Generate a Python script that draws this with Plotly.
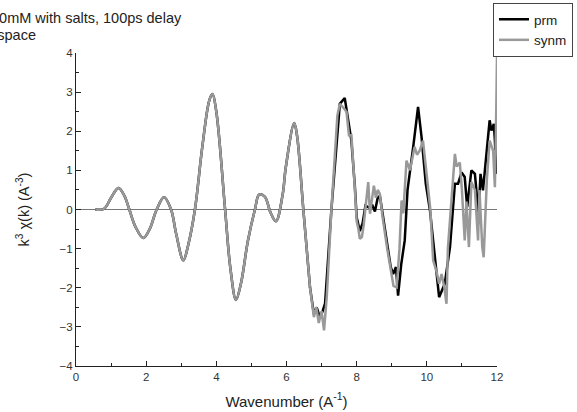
import plotly.graph_objects as go

# shared (overlapping) part of both spectra
k_common = [0.55, 0.8, 1.0, 1.21, 1.38, 1.52, 1.7, 1.92, 2.1, 2.30, 2.51, 2.71, 2.85, 3.06, 3.2, 3.39,
            3.6, 3.80, 3.89, 4.0, 4.25, 4.4, 4.56, 4.7, 4.9, 5.10, 5.22, 5.38, 5.55, 5.70, 5.89, 5.98,
            6.22, 6.30, 6.48]
v_common = [0.0, 0.02, 0.3, 0.55, 0.35, 0.0, -0.45, -0.73, -0.5, 0.0, 0.31, 0.0, -0.6, -1.30, -0.9, 0.0,
            1.6, 2.79, 2.95, 2.5, 0.0, -1.5, -2.31, -1.9, -0.8, 0.0, 0.38, 0.33, -0.09, -0.30, 0.38, 1.08,
            2.21, 1.89, 0.0]

k_prm_tail = [6.67, 6.78, 6.86, 6.95, 7.03, 7.1, 7.28, 7.52, 7.66, 7.71, 7.85, 7.95, 8.0, 8.09, 8.17, 8.25,
              8.35, 8.45, 8.52, 8.6, 8.66, 8.74, 8.87, 8.97, 9.04, 9.12, 9.18, 9.27, 9.37, 9.45, 9.61, 9.75,
              9.85, 9.97, 10.09, 10.18, 10.35, 10.51, 10.66, 10.80, 10.89, 10.99, 11.08, 11.15, 11.27, 11.37,
              11.43, 11.46, 11.53, 11.60, 11.68, 11.79, 11.84, 11.91, 11.94, 11.98]
v_prm_tail = [-1.99, -2.67, -2.5, -2.75, -2.6, -2.4, 0.0, 2.70, 2.85, 2.53, 1.76, 0.57, -0.2, -0.55, -0.35, 0.1,
              0.05, 0.1, -0.05, 0.3, 0.35, -0.11, -0.88, -1.47, -1.65, -1.47, -2.20, -1.4, -0.79, 0.5, 1.59, 2.62,
              1.85, 0.66, -0.03, -0.79, -2.24, -1.90, -0.96, 0.66, 0.66, 0.95, 0.83, 0.06, 1.0, 0.91,
              0.31, -0.37, 0.91, 0.49, 1.25, 2.28, 2.02, 2.19, 1.76, 0.91]

k_synm_tail = [6.67, 6.78, 6.85, 6.92, 7.0, 7.07, 7.15, 7.28, 7.45, 7.52, 7.62, 7.71, 7.78, 7.85, 7.95, 8.0,
               8.05, 8.09, 8.15, 8.2, 8.27, 8.33, 8.38, 8.45, 8.49, 8.55, 8.6, 8.66, 8.74, 8.87, 8.97, 9.05,
               9.14, 9.22, 9.28, 9.33, 9.42, 9.52, 9.65, 9.72, 9.80, 9.89, 9.97, 10.1, 10.18, 10.28, 10.35,
               10.42, 10.5, 10.56, 10.6, 10.70, 10.80, 10.85, 10.94, 11.0, 11.08, 11.13, 11.20, 11.27, 11.37,
               11.46, 11.5, 11.58, 11.62, 11.71, 11.79, 11.89, 11.94, 11.98, 12.0]
v_synm_tail = [-1.99, -2.75, -2.5, -2.9, -2.6, -3.09, -2.2, 0.0, 2.4, 2.70, 2.6, 2.5, 1.9, 1.9, 0.5, -0.3,
               -0.5, -0.75, -0.7, -0.4, 0.2, 0.70, -0.11, 0.3, 0.61, 0.3, 0.5, 0.40, -0.2, -1.0, -1.6, -1.95,
               -1.99, -1.0, 0.23, -0.1, 1.25, 1.0, 1.6, 1.4, 1.51, 1.76, 1.1, 0.0, -1.3, -1.6, -1.9,
               -1.65, -2.0, -2.41, -1.0, 0.15, 1.42, 1.1, 1.2, 0.5, -0.79, 0.2, -0.96, 0.7, 0.5,
               -0.79, 0.5, -0.96, -1.22, 0.75, 1.76, 1.5, 0.57, 2.6, 3.93]

x_ticks = [0, 2, 4, 6, 8, 10, 12]
y_ticks = [-4, -3, -2, -1, 0, 1, 2, 3, 4]

fig = go.Figure()
# prm: smooth part (spline) + noisy tail (linear), grouped under one legend entry
fig.add_trace(go.Scatter(x=k_common + k_prm_tail[:1], y=v_common + v_prm_tail[:1], mode="lines", name="prm",
                         legendgroup="prm", showlegend=False,
                         line=dict(color="black", width=2.5, shape="spline", smoothing=1.0)))
fig.add_trace(go.Scatter(x=k_prm_tail, y=v_prm_tail, mode="lines", name="prm", legendgroup="prm",
                         line=dict(color="black", width=2.5)))
fig.add_trace(go.Scatter(x=k_common + k_synm_tail[:1], y=v_common + v_synm_tail[:1], mode="lines", name="synm",
                         legendgroup="synm", showlegend=False,
                         line=dict(color="#999999", width=2.5, shape="spline", smoothing=1.0)))
fig.add_trace(go.Scatter(x=k_synm_tail, y=v_synm_tail, mode="lines", name="synm", legendgroup="synm",
                         line=dict(color="#999999", width=2.5)))

W, H = 577, 412
L, R, T, B = 76, 80, 53, 46
pw = W - L - R
ph = H - T - B

def px_to_paper(px):
    return (px - L) / pw

def py_to_paper(py):
    return (H - B - py) / ph

axis_font = dict(family="Liberation Sans, Arial, sans-serif", size=11.5, color="#333")
fig.update_layout(
    width=W, height=H,
    margin=dict(l=L, r=R, t=T, b=B, autoexpand=False),
    paper_bgcolor="white", plot_bgcolor="white",
    font=dict(family="Liberation Sans, Arial, sans-serif", color="#222"),
    xaxis=dict(range=[0, 12], tickvals=x_ticks, ticks="inside", ticklen=5, tickcolor="#222",
               showline=True, linecolor="#222", linewidth=1, showgrid=False, zeroline=False,
               tickfont=axis_font,
               minor=dict(dtick=1, ticks="inside", ticklen=3, tickcolor="#222"),
               title=dict(text="Wavenumber (A<sup>-1</sup>)", font=dict(size=15, color="#222"), standoff=14)),
    yaxis=dict(range=[-4, 4], tickvals=y_ticks, ticks="inside", ticklen=5, tickcolor="#222",
               showline=True, linecolor="#222", linewidth=1, showgrid=False,
               zeroline=True, zerolinecolor="#777", zerolinewidth=1,
               tickfont=axis_font,
               minor=dict(dtick=0.5, ticks="inside", ticklen=3, tickcolor="#222"),
               title=dict(text="k<sup>3</sup> χ(k) (A<sup>-3</sup>)", font=dict(size=14.5, color="#222"), standoff=26)),
    legend=dict(x=px_to_paper(493), y=py_to_paper(3), xanchor="left", yanchor="top",
                bordercolor="#444", borderwidth=1, bgcolor="white",
                font=dict(size=13.5, color="#222"), tracegroupgap=0, itemwidth=30),
    showlegend=True,
)

fig.add_annotation(text="50mM with salts, 100ps delay", xref="paper", yref="paper",
                   x=px_to_paper(184), y=py_to_paper(18), xanchor="right", yanchor="middle",
                   showarrow=False, font=dict(size=14.5, color="#222"))
fig.add_annotation(text="k space", xref="paper", yref="paper",
                   x=px_to_paper(38), y=py_to_paper(35), xanchor="right", yanchor="middle",
                   showarrow=False, font=dict(size=14.5, color="#222"))

fig.write_html("out.html", post_script="document.body.style.margin='0';",
               config={"displayModeBar": False})
